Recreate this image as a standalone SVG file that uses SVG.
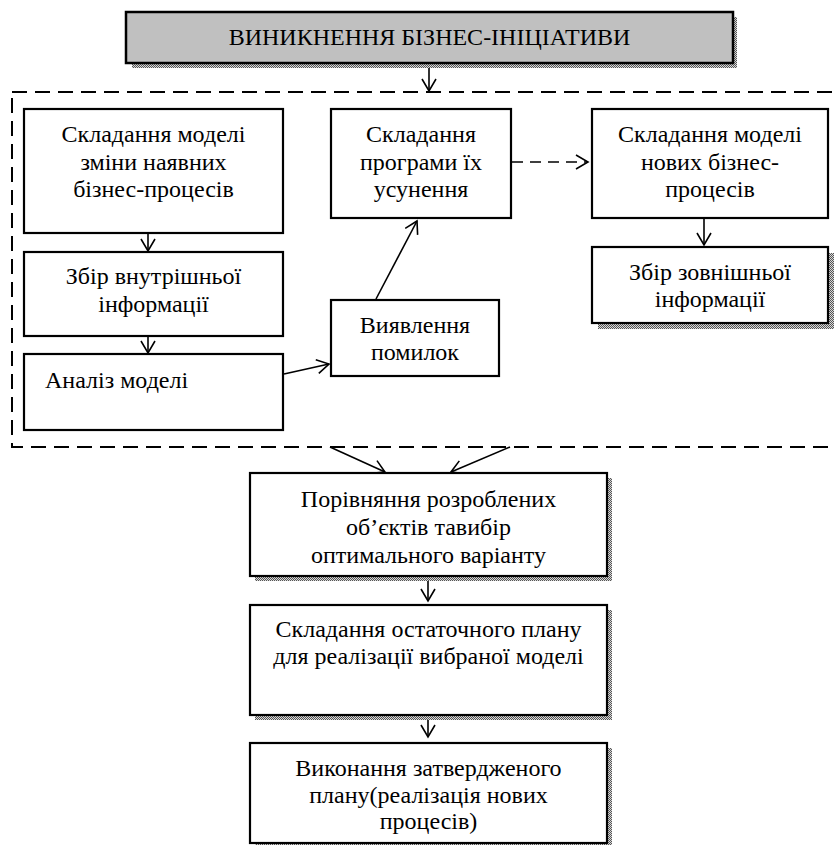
<svg xmlns="http://www.w3.org/2000/svg" width="834" height="845" viewBox="0 0 834 845">
<style>
.box{fill:#fff;stroke:#000;stroke-width:2.2}
.title{fill:#c0c0c0;stroke:#000;stroke-width:2.5}
.sh{fill:url(#dots);stroke:none}
text{font-family:"Liberation Serif","Times New Roman",serif;font-size:24px;fill:#000}
.c{text-anchor:middle}
.ln{stroke:#000;stroke-width:1.6;fill:none}
.dl{stroke:#000;stroke-width:2;fill:none;stroke-dasharray:15 8}
.da{stroke:#000;stroke-width:1.6;fill:none;stroke-dasharray:11 7}
</style>
<defs>
<pattern id="dots" width="2" height="2" patternUnits="userSpaceOnUse">
<rect width="2" height="2" fill="#d8d8d8"/>
<rect width="1" height="1" fill="#555"/>
<rect x="1" y="1" width="1" height="1" fill="#555"/>
</pattern>
<marker id="ah" markerWidth="16" markerHeight="16" viewBox="-13 -8 15 16" refX="0" refY="0" orient="auto" markerUnits="userSpaceOnUse">
<path d="M-12,-7 L0,0 L-12,7" fill="none" stroke="#000" stroke-width="1.6"/>
</marker>
</defs>
<rect width="834" height="845" fill="#fff"/>

<g id="connectors">
<rect class="dl" x="12" y="92" width="840" height="355"/>
<line class="ln" x1="429" y1="68" x2="429" y2="91" marker-end="url(#ah)"/>
<line class="ln" x1="148" y1="233" x2="148" y2="251" marker-end="url(#ah)"/>
<line class="ln" x1="148" y1="336" x2="148" y2="353" marker-end="url(#ah)"/>
<line class="ln" x1="284" y1="374" x2="329" y2="364" marker-end="url(#ah)"/>
<line class="ln" x1="376" y1="299" x2="417" y2="221" marker-end="url(#ah)"/>
<line class="da" x1="512" y1="162" x2="588" y2="162"/>
<path class="ln" d="M576,155 L588,162 L576,169"/>
<line class="ln" x1="704" y1="218" x2="704" y2="245" marker-end="url(#ah)"/>
<line class="ln" x1="330" y1="447" x2="385" y2="472" marker-end="url(#ah)"/>
<line class="ln" x1="510" y1="447" x2="451" y2="472" marker-end="url(#ah)"/>
<line class="ln" x1="428" y1="576" x2="428" y2="601" marker-end="url(#ah)"/>
<line class="ln" x1="428" y1="715" x2="428" y2="737" marker-end="url(#ah)"/>
</g>

<g id="n-start">
<rect class="sh" x="132" y="17" width="605" height="51"/>
<rect class="title" x="126" y="12" width="607" height="51"/>
<text class="c" x="429.5" y="45">ВИНИКНЕННЯ БІЗНЕС-ІНІЦІАТИВИ</text>
</g>

<g id="n-model-change">
<rect class="box" x="24" y="109" width="259" height="124"/>
<text class="c" x="153.5" y="142">Складання моделі</text>
<text class="c" x="153.5" y="170">зміни наявних</text>
<text class="c" x="153.5" y="197">бізнес-процесів</text>
</g>

<g id="n-internal">
<rect class="box" x="24" y="252" width="259" height="84"/>
<text class="c" x="153.5" y="284">Збір внутрішньої</text>
<text class="c" x="153.5" y="312">інформації</text>
</g>

<g id="n-analysis">
<rect class="box" x="24" y="354" width="259" height="76"/>
<text x="45" y="388">Аналіз моделі</text>
</g>

<g id="n-program">
<rect class="box" x="331" y="109" width="180" height="109"/>
<text class="c" x="421" y="142">Складання</text>
<text class="c" x="421" y="170">програми їх</text>
<text class="c" x="421" y="197">усунення</text>
</g>

<g id="n-errors">
<rect class="box" x="331" y="300" width="168" height="76"/>
<text class="c" x="415" y="333">Виявлення</text>
<text class="c" x="415" y="360">помилок</text>
</g>

<g id="n-new-model">
<rect class="box" x="592" y="109" width="236" height="109"/>
<text class="c" x="710" y="142">Складання моделі</text>
<text class="c" x="710" y="170">нових бізнес-</text>
<text class="c" x="710" y="197">процесів</text>
</g>

<g id="n-external">
<rect class="sh" x="598" y="253" width="236" height="76"/>
<rect class="box" x="592" y="247" width="236" height="76"/>
<text class="c" x="710" y="280">Збір зовнішньої</text>
<text class="c" x="710" y="307">інформації</text>
</g>

<g id="n-compare">
<rect class="sh" x="255" y="478" width="357" height="103"/>
<rect class="box" x="250" y="473" width="357" height="103"/>
<text class="c" x="428.5" y="507">Порівняння розроблених</text>
<text class="c" x="428.5" y="535">об’єктів тавибір</text>
<text class="c" x="428.5" y="563">оптимального варіанту</text>
</g>

<g id="n-plan">
<rect class="sh" x="255" y="610" width="357" height="110"/>
<rect class="box" x="250" y="605" width="357" height="110"/>
<text class="c" x="428.5" y="637">Складання остаточного плану</text>
<text class="c" x="428.5" y="664">для реалізації вибраної моделі</text>
</g>

<g id="n-execute">
<rect class="sh" x="255" y="748" width="357" height="101"/>
<rect class="box" x="250" y="743" width="357" height="100"/>
<text class="c" x="428.5" y="776">Виконання затвердженого</text>
<text class="c" x="428.5" y="803">плану(реалізація нових</text>
<text class="c" x="428.5" y="829">процесів)</text>
</g>
</svg>
